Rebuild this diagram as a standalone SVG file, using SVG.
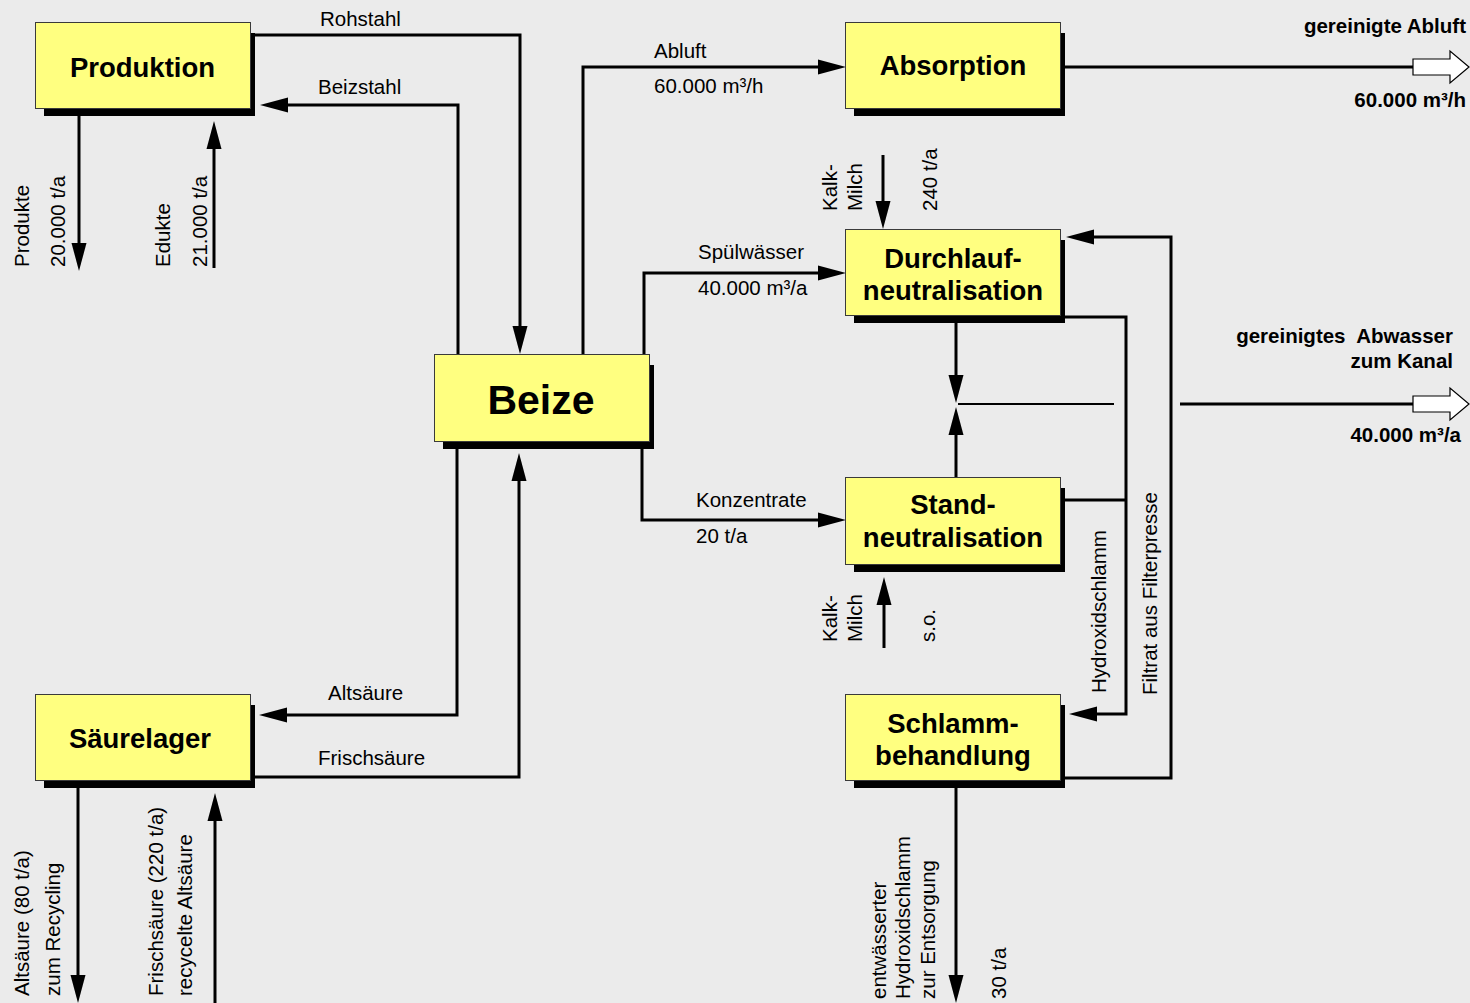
<svg xmlns="http://www.w3.org/2000/svg" width="1470" height="1003" viewBox="0 0 1470 1003">
<defs>
<style>
.bg{fill:#ebebeb}
.box{fill:#ffff80;stroke:#3a3a3a;stroke-width:1}
.sh{fill:#000}
.title{font-family:"Liberation Sans",Arial,sans-serif;font-weight:bold;font-size:27.5px;text-anchor:middle;fill:#000}
.big{font-size:41px}
.lbl{font-family:"Liberation Sans",Arial,sans-serif;font-size:20.5px;fill:#000}
.bold{font-weight:bold}
.end{text-anchor:end}
.ln{fill:none;stroke:#000;stroke-width:3}
.arr{marker-end:url(#ah)}
.thin{fill:none;stroke:#000;stroke-width:2}
.hollow{fill:#fff;stroke:#000;stroke-width:1.2}
</style>
<marker id="ah" markerUnits="userSpaceOnUse" viewBox="0 0 28 15" markerWidth="28" markerHeight="15" refX="0" refY="7.5" orient="auto" overflow="visible">
<path d="M0,0 L28,7.5 L0,15 z" fill="#000"/>
</marker>
</defs>
<rect class="bg" x="0" y="0" width="1470" height="1003"/>

<g id="connectors">
<path class="ln arr" d="M250,35 H520 V326"/>
<path class="ln arr" d="M458,358 V105 H288"/>
<path class="ln arr" d="M79,112 V243"/>
<path class="ln arr" d="M214,268 V149"/>
<path class="ln arr" d="M583,358 V67 H818"/>
<path class="ln" d="M1060,67 H1413"/>
<polygon class="hollow" points="1413,59 1450,59 1450,51 1469,67 1450,83 1450,75 1413,75"/>
<path class="ln arr" d="M644,358 V273 H818"/>
<path class="ln arr" d="M883,155 V201"/>
<path class="ln arr" d="M956,318 V375"/>
<path class="ln arr" d="M956,480 V435"/>
<path class="thin" d="M958,404 H1114"/>
<path class="ln" d="M1180,404 H1413"/>
<polygon class="hollow" points="1413,396 1450,396 1450,388 1469,404 1450,420 1450,412 1413,412"/>
<path class="ln arr" d="M1060,317 H1126 V714 H1097"/>
<path class="ln" d="M1060,500 H1126"/>
<path class="ln arr" d="M1060,778 H1171 V237 H1094"/>
<path class="ln arr" d="M642,445 V520 H818"/>
<path class="ln arr" d="M884,648 V605"/>
<path class="ln arr" d="M956,785 V975"/>
<path class="ln arr" d="M457,445 V715 H287"/>
<path class="ln arr" d="M250,777 H519 V481"/>
<path class="ln arr" d="M78,785 V975"/>
<path class="ln arr" d="M215,1003 V821"/>
</g>

<g id="node-produktion">
<rect class="sh" x="44" y="33" width="211" height="83"/>
<rect class="box" x="35.5" y="22.5" width="215" height="86"/>
<text class="title" x="142.5" y="76.5">Produktion</text>
</g>
<g id="node-absorption">
<rect class="sh" x="854" y="33" width="211" height="83"/>
<rect class="box" x="845.5" y="22.5" width="215" height="86"/>
<text class="title" x="953" y="75">Absorption</text>
</g>
<g id="node-durchlauf">
<rect class="sh" x="854" y="240" width="211" height="83"/>
<rect class="box" x="845.5" y="229.5" width="215" height="86"/>
<text class="title" x="953" y="268">Durchlauf-</text>
<text class="title" x="953" y="300">neutralisation</text>
</g>
<g id="node-beize">
<rect class="sh" x="443" y="365" width="211" height="84"/>
<rect class="box" x="434.5" y="354.5" width="215" height="87"/>
<text class="title big" x="541" y="414">Beize</text>
</g>
<g id="node-stand">
<rect class="sh" x="854" y="488" width="211" height="84"/>
<rect class="box" x="845.5" y="477.5" width="215" height="87"/>
<text class="title" x="953" y="514">Stand-</text>
<text class="title" x="953" y="547">neutralisation</text>
</g>
<g id="node-saeurelager">
<rect class="sh" x="44" y="705" width="211" height="83"/>
<rect class="box" x="35.5" y="694.5" width="215" height="86"/>
<text class="title" x="140" y="748">Säurelager</text>
</g>
<g id="node-schlamm">
<rect class="sh" x="854" y="705" width="211" height="83"/>
<rect class="box" x="845.5" y="694.5" width="215" height="86"/>
<text class="title" x="953" y="733">Schlamm-</text>
<text class="title" x="953" y="765">behandlung</text>
</g>

<g id="labels">
<text class="lbl" x="320" y="26">Rohstahl</text>
<text class="lbl" x="318" y="94">Beizstahl</text>
<text class="lbl" x="654" y="58">Abluft</text>
<text class="lbl" x="654" y="93">60.000 m³/h</text>
<text class="lbl" x="698" y="259">Spülwässer</text>
<text class="lbl" x="698" y="295">40.000 m³/a</text>
<text class="lbl" x="696" y="507">Konzentrate</text>
<text class="lbl" x="696" y="543">20 t/a</text>
<text class="lbl" x="328" y="700">Altsäure</text>
<text class="lbl" x="318" y="765">Frischsäure</text>
<text class="lbl bold end" x="1466" y="33">gereinigte Abluft</text>
<text class="lbl bold end" x="1466" y="107">60.000 m³/h</text>
<text class="lbl bold end" x="1453" y="343" style="white-space:pre">gereinigtes  Abwasser</text>
<text class="lbl bold end" x="1453" y="368">zum Kanal</text>
<text class="lbl bold end" x="1461" y="442">40.000 m³/a</text>

<text class="lbl" transform="translate(28.5,267) rotate(-90)">Produkte</text>
<text class="lbl" transform="translate(65,267) rotate(-90)">20.000 t/a</text>
<text class="lbl" transform="translate(170,267) rotate(-90)">Edukte</text>
<text class="lbl" transform="translate(207,267) rotate(-90)">21.000 t/a</text>

<text class="lbl" transform="translate(837,211) rotate(-90)">Kalk-</text>
<text class="lbl" transform="translate(862,211) rotate(-90)">Milch</text>
<text class="lbl" transform="translate(937,211) rotate(-90)">240 t/a</text>

<text class="lbl" transform="translate(837,642) rotate(-90)">Kalk-</text>
<text class="lbl" transform="translate(862,642) rotate(-90)">Milch</text>
<text class="lbl" transform="translate(935,642) rotate(-90)">s.o.</text>

<text class="lbl" transform="translate(1106,693) rotate(-90)">Hydroxidschlamm</text>
<text class="lbl" transform="translate(1156.5,695) rotate(-90)">Filtrat aus Filterpresse</text>

<text class="lbl" transform="translate(28.5,996) rotate(-90)">Altsäure (80 t/a)</text>
<text class="lbl" transform="translate(60,996) rotate(-90)">zum Recycling</text>
<text class="lbl" transform="translate(163,996) rotate(-90)">Frischsäure (220 t/a)</text>
<text class="lbl" transform="translate(191.5,996) rotate(-90)">recycelte Altsäure</text>

<text class="lbl" transform="translate(886,999) rotate(-90)">entwässerter</text>
<text class="lbl" transform="translate(910,999) rotate(-90)">Hydroxidschlamm</text>
<text class="lbl" transform="translate(935,999) rotate(-90)">zur Entsorgung</text>
<text class="lbl" transform="translate(1006,999) rotate(-90)">30 t/a</text>
</g>
</svg>
